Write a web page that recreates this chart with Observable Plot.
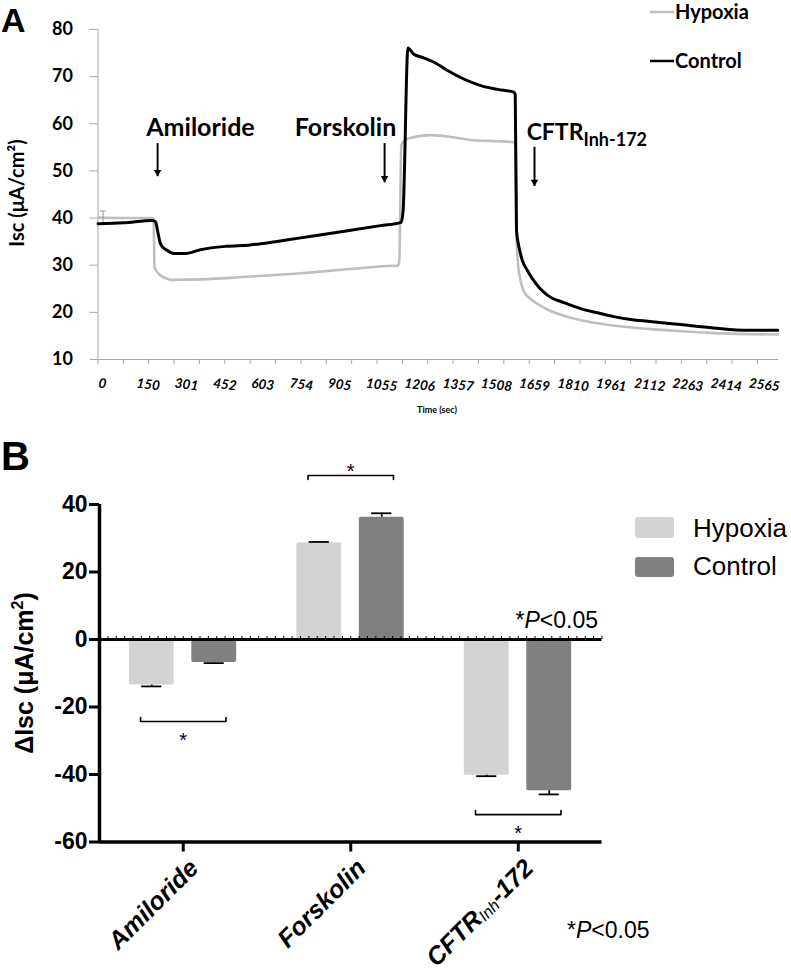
<!DOCTYPE html>
<html><head><meta charset="utf-8">
<script src="https://cdn.jsdelivr.net/npm/d3@7"></script>
<script src="https://cdn.jsdelivr.net/npm/@observablehq/plot@0.6"></script>
<style>
body{margin:0;background:#fff;}
#wrap{position:relative;width:791px;height:970px;overflow:hidden;background:#fff;}
#wrap svg{position:absolute;left:0;}
</style></head><body><div id="wrap"></div>
<script>
// ---------- Panel A data ----------
const timeTickLabels = [0,150,301,452,603,754,905,1055,1206,1357,1508,1659,1810,1961,2112,2263,2414,2565];
const timeTickMarks = [0,100,200,300,400,500,600,700,800,900,1000,1100,1200,1300,1400,1500,1600,1700,1800,1900,2000,2100,2200,2300,2400,2500,2600];
const yTicksA = [10,20,30,40,50,60,70,80];
const controlTime = [0,100,215,227,236,246,260,274,298,345,404,503,601,700,799,900,996,1114,1195,1203,1222,1244,1284,1323,1378,1442,1509,1576,1639,1645,1650,1660,1673,1693,1712,1740,1773,1840,1903,1970,2033,2100,2167,2297,2427,2561,2680];
const controlIsc  = [38.8,39.0,39.5,39.2,37.0,34.6,33.6,33.1,32.5,32.5,33.3,34.0,34.3,35.0,35.8,36.6,37.4,38.4,39.1,41.6,76.1,74.8,74.0,73.1,71.3,69.5,68.1,67.3,66.7,66.2,37.4,33.8,31.0,28.9,27.2,25.2,23.6,22.0,20.8,19.9,19.1,18.5,18.1,17.4,16.7,16.2,16.2];
const hypoxiaTime = [0,100,219,223,239,274,298,404,601,799,996,1166,1183,1188,1196,1219,1311,1378,1481,1576,1639,1645,1650,1655,1665,1678,1700,1733,1780,1836,1900,1970,2067,2167,2300,2427,2680];
const hypoxiaIsc  = [40.1,40.0,40.0,29.6,28.2,27.1,26.9,27.0,27.6,28.3,29.2,29.9,29.9,31.0,55.5,56.8,57.6,57.3,56.5,56.3,56.1,55.8,36.0,31.0,27.0,24.6,23.1,21.8,20.4,19.3,18.4,17.7,17.0,16.5,16.0,15.6,15.3];
const baselineErrTime = [20];
const baselineErrLow = [38.5];
const baselineErrHigh = [41.5];
const drugLabels = ["Amiloride","Forskolin","CFTRInh-172"];
const drugLabelTime = [404,976,1690];
const drugLabelIsc = [57.5,57.5,56.5];
const arrowTime = [235,1130,1721];
const arrowTop = [55.8,55.8,55.0];
const arrowTip = [48.8,47.5,46.7];

// ---------- Panel B data ----------
const categories = ["Amiloride","Forskolin","CFTRInh-172"];
const groups = ["Hypoxia","Control"];
const hypoxiaMean = [-13.5,28.7,-40.2];
const hypoxiaSem  = [0.4,0.2,0.3];
const controlMean = [-6.8,36.2,-44.8];
const controlSem  = [0.2,1.2,1.1];
const yTicksB = [-60,-40,-20,0,20,40];
const bracketLevel = [-24.3,48.6,-51.9];
const bracketEnd   = [-23.1,47.4,-50.7];
const starLevel    = [-28.4,51.3,-56.0];

// ---------- Panel A ----------
const hyp = hypoxiaTime.map((t,i)=>({t, v:hypoxiaIsc[i]}));
const ctl = controlTime.map((t,i)=>({t, v:controlIsc[i]}));
const drugs = drugLabels.map((name,i)=>({name, t:drugLabelTime[i], v:drugLabelIsc[i], at:arrowTime[i], top:arrowTop[i], tip:arrowTip[i]}));
const errA = baselineErrTime.map((t,i)=>({t, lo:baselineErrLow[i], hi:baselineErrHigh[i]}));
const fontA = "Lato, 'Open Sans', sans-serif";

const plotA = Plot.plot({
  width: 791, height: 425,
  marginLeft: 97.5, marginRight: 13, marginTop: 29, marginBottom: 66,
  style: {fontFamily: fontA, fontWeight: "bold", color: "#000", background: "transparent", overflow: "visible"},
  x: {domain: [0, 2683], axis: null},
  y: {domain: [10, 80], axis: null},
  marks: [
    Plot.ruleX([0], {stroke: "#a6a6a6", strokeWidth: 1}),
    Plot.ruleY([10], {stroke: "#a6a6a6", strokeWidth: 1}),
    Plot.axisY(yTicksA, {tickSize: 8, tickPadding: 17, stroke: "#a6a6a6", fill: "#000", fontSize: 18, fontWeight: "bold", label: null}),
    Plot.axisX(timeTickMarks, {tickSize: 5, stroke: "#a6a6a6", tickFormat: () => "", label: null}),
    Plot.text(timeTickLabels, {x: d => d, text: d => String(d), frameAnchor: "bottom", textAnchor: "start", lineAnchor: "bottom", dy: 28, rotate: 7, fontSize: 13.5, fontStyle: "italic", fontWeight: "bold", fill: "#000"}),
    Plot.line(hyp, {x: "t", y: "v", stroke: "#bfbfbf", strokeWidth: 2.6, curve: "monotone-x"}),
    Plot.ruleX(errA, {x: "t", y1: "lo", y2: "hi", stroke: "#9a9a9a", strokeWidth: 1}),
    Plot.ruleY(errA, {y: "hi", x1: d => d.t - 12, x2: d => d.t + 12, stroke: "#9a9a9a", strokeWidth: 1}),
    Plot.line(ctl, {x: "t", y: "v", stroke: "#000", strokeWidth: 3, curve: "monotone-x"}),
    Plot.ruleX(drugs, {x: "at", y1: "top", y2: "tip", stroke: "#000", strokeWidth: 2}),
    Plot.dot(drugs, {x: "at", y: "tip", symbol: "triangle", r: 2.8, fill: "#000", stroke: null, rotate: 180, dy: -4.5}),
    Plot.text(drugs.slice(0,2), {x: "t", y: "v", text: "name", textAnchor: "middle", lineAnchor: "bottom", fontSize: 25, fontWeight: "bold", fill: "#000"}),
    Plot.text(drugs.slice(2), {x: "t", y: "v", text: "name", textAnchor: "start", lineAnchor: "bottom", fontSize: 23, fontWeight: "bold", fill: "#000"})
  ]
});
plotA.style.top = "0px";
document.getElementById("wrap").appendChild(plotA);

const sA = d3.select(plotA);
sA.selectAll("text").filter(function(){return this.textContent === "CFTRInh-172";}).each(function(){
  const t = d3.select(this); t.text("CFTR");
  t.append("tspan").attr("dy", 6).attr("font-size", 18).text("Inh-172");
});
sA.append("text").attr("x", 1).attr("y", 32).attr("text-anchor", "start").attr("font-family", "'Liberation Sans', Arial, sans-serif").attr("font-weight", "bold").attr("font-size", 34).attr("fill", "#000").text("A");
sA.append("text").attr("transform", "translate(24,193) rotate(-90)").attr("text-anchor", "middle").attr("font-size", 20).attr("font-weight", "bold").attr("fill", "#000").text("Isc (μA/cm²)");
sA.append("text").attr("x", 437).attr("y", 413).attr("text-anchor", "middle").attr("font-size", 9).attr("font-weight", "bold").attr("fill", "#000").text("Time (sec)");
const legA = [{name: "Hypoxia", color: "#bfbfbf", y: 12}, {name: "Control", color: "#000", y: 61}];
legA.forEach(l => {
  sA.append("line").attr("x1", 650).attr("x2", 674).attr("y1", l.y).attr("y2", l.y).attr("stroke", l.color).attr("stroke-width", 2.5);
  sA.append("text").attr("x", 675).attr("y", l.y).attr("dy", "0.35em").attr("text-anchor", "start").attr("font-size", 20).attr("font-weight", "bold").attr("fill", "#000").text(l.name);
});

// ---------- Panel B ----------
const fontB = "'Liberation Sans', Arial, sans-serif";
const offs = {Hypoxia: [-0.322, -0.054], Control: [0.051, 0.319]};
const colorsB = {Hypoxia: "#d3d3d3", Control: "#808080"};
const bars = [];
categories.forEach((c,i) => {
  bars.push({i, g: "Hypoxia", v: hypoxiaMean[i], e: hypoxiaSem[i]});
  bars.push({i, g: "Control", v: controlMean[i], e: controlSem[i]});
});
const ctr = d => d.i + (offs[d.g][0] + offs[d.g][1]) / 2;
const errEnd = d => d.v + Math.sign(d.v) * d.e;
const brackets = [];
categories.forEach((c,i) => {
  brackets.push({k: i, x: i - 0.255, y: bracketEnd[i]});
  brackets.push({k: i, x: i - 0.255, y: bracketLevel[i]});
  brackets.push({k: i, x: i + 0.255, y: bracketLevel[i]});
  brackets.push({k: i, x: i + 0.255, y: bracketEnd[i]});
});
const catIdx = categories.map((c,i) => i);
const minorTicks = d3.range(-0.5, 2.5001, 0.05);

const plotB = Plot.plot({
  width: 791, height: 545,
  marginLeft: 99, marginRight: 189.5, marginTop: 79, marginBottom: 128.5,
  style: {fontFamily: fontB, color: "#000", background: "transparent", overflow: "visible"},
  x: {domain: [-0.5, 2.5], axis: null},
  y: {domain: [-60, 40], axis: null},
  marks: [
    Plot.rectY(bars, {x1: d => d.i + offs[d.g][0], x2: d => d.i + offs[d.g][1], y1: 0, y2: "v", fill: d => colorsB[d.g], rx: 2}),
    Plot.ruleX(bars, {x: ctr, y1: "v", y2: errEnd, stroke: "#000", strokeWidth: 1.8}),
    Plot.ruleY(bars, {y: errEnd, x1: d => ctr(d) - 0.06, x2: d => ctr(d) + 0.06, stroke: "#000", strokeWidth: 1.8}),
    Plot.ruleX(minorTicks, {x: d => d, y1: 0, y2: 0.9, stroke: "#000", strokeWidth: 1}),
    Plot.ruleY([0], {stroke: "#000", strokeWidth: 3}),
    Plot.ruleX([-0.5], {stroke: "#000", strokeWidth: 3.5}),
    Plot.ruleY([-60], {stroke: "#000", strokeWidth: 3.5}),
    Plot.axisY(yTicksB, {tickSize: 10, tickPadding: 2, strokeWidth: 3, stroke: "#000", fill: "#000", fontSize: 23, fontWeight: "bold", tickFormat: d => String(d), label: null}),
    Plot.axisX(catIdx, {tickSize: 10, strokeWidth: 3, stroke: "#000", tickFormat: () => "", label: null}),
    Plot.text(catIdx, {x: d => d, text: d => categories[d], frameAnchor: "bottom", textAnchor: "end", lineAnchor: "top", rotate: -45, dx: 4, dy: 15, fontSize: 25, fontWeight: "bold", fontStyle: "italic", fill: "#000"}),
    Plot.line(brackets, {x: "x", y: "y", z: "k", stroke: "#000", strokeWidth: 1.6}),
    Plot.text(catIdx, {x: d => d, y: d => starLevel[d], text: () => "*", lineAnchor: "middle", dy: 5, fontSize: 20, fill: "#000"}),
    Plot.text([0], {x: 2.5, y: 0, text: () => "*P<0.05", textAnchor: "end", lineAnchor: "bottom", dx: -4, dy: -12, fontSize: 23, fill: "#000"})
  ]
});
plotB.style.top = "425px";
document.getElementById("wrap").appendChild(plotB);

const sB = d3.select(plotB);
sB.selectAll("text").filter(function(){return this.textContent === "CFTRInh-172";}).each(function(){
  const t = d3.select(this); t.text("CFTR");
  t.append("tspan").attr("font-size", 16).attr("font-weight", "normal").attr("dy", 2).text("Inh");
  t.append("tspan").attr("dy", -2).text("-172");
});
function pValue(t) {
  t.text("*");
  t.append("tspan").attr("font-style", "italic").text("P");
  t.append("tspan").text("<0.05");
}
sB.selectAll("text").filter(function(){return this.textContent === "*P<0.05";}).each(function(){ pValue(d3.select(this)); });
sB.append("text").attr("x", 1).attr("y", 45).attr("text-anchor", "start").attr("font-size", 40).attr("font-weight", "bold").attr("fill", "#000").text("B");
const yt = sB.append("text").attr("transform", "translate(33,248) rotate(-90)").attr("text-anchor", "middle").attr("font-size", 25).attr("font-weight", "bold").attr("fill", "#000");
yt.append("tspan").text("ΔIsc (μA/cm");
yt.append("tspan").attr("font-size", 16).attr("dy", -10).text("2");
yt.append("tspan").attr("dy", 10).text(")");
const legB = [{name: "Hypoxia", y: 92, h: 21, base: 112}, {name: "Control", y: 132, h: 20, base: 150}];
legB.forEach(l => {
  sB.append("rect").attr("x", 635).attr("y", l.y).attr("width", 39).attr("height", l.h).attr("rx", 3).attr("fill", colorsB[l.name]);
  sB.append("text").attr("x", 693).attr("y", l.base).attr("text-anchor", "start").attr("font-size", 26).attr("fill", "#000").text(l.name);
});
pValue(sB.append("text").attr("x", 567).attr("y", 513).attr("text-anchor", "start").attr("font-size", 23).attr("fill", "#000"));
</script>
</body></html>
